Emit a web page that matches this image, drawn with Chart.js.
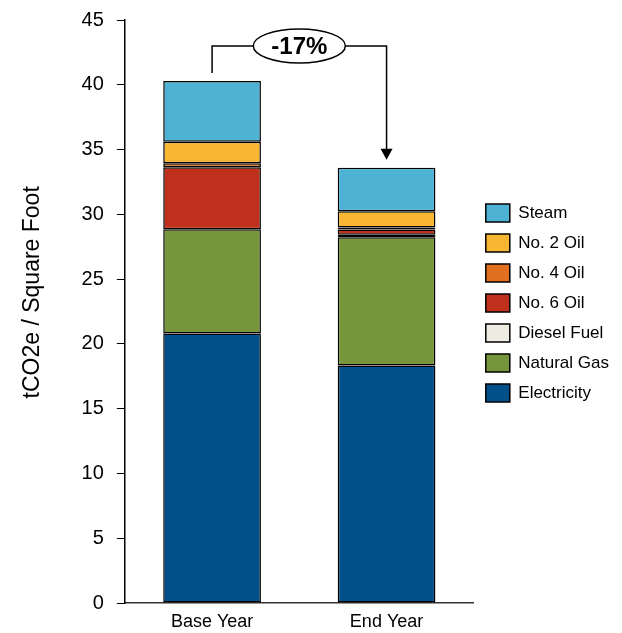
<!DOCTYPE html>
<html lang="en">
  <head>
    <meta charset="UTF-8" />
    <script src="https://cdn.jsdelivr.net/npm/chart.js"></script>
    <title>tCO2e / Square Foot</title>
    <style>
      html, body { margin: 0; padding: 0; background: #ffffff; }
      #box { width: 622px; height: 633px; }
    </style>
  </head>
  <body>
    <div id="box"><canvas id="myChartCanvas"></canvas></div>
  </body>
</html>
<script>
  // dados
  const categories = ["Base Year", "End Year"];
  const electricity = [20.8, 18.33];
  const naturalGas = [8.05, 9.9];
  const dieselFuel = [0, 0.2];
  const no6Oil = [4.79, 0.4];
  const no4Oil = [0.31, 0.15];
  const no2Oil = [1.66, 1.26];
  const steam = [4.68, 3.36];
  const yMax = 45;
  const yStep = 5;
  const changeLabel = "-17%";

  const font = "'Liberation Sans', Arial, sans-serif";

  function serie(label, data, color) {
    return {
      label: label,
      data: data,
      backgroundColor: color,
      borderColor: "#000000",
      borderWidth: 1.5,
      borderSkipped: false,
      barPercentage: 0.56,
      categoryPercentage: 1,
    };
  }

  // seta com a variação entre os anos
  const setaVariacao = {
    id: "setaVariacao",
    afterDatasetsDraw(chart) {
      const ctx = chart.ctx;
      const x = chart.scales.x;
      const y = chart.scales.y;
      const tot = (i) =>
        chart.data.datasets.reduce((s, d) => s + d.data[i], 0);
      const x0 = x.getPixelForValue(0);
      const x1 = x.getPixelForValue(1);
      const yTop = y.getPixelForValue(43);
      const y0 = y.getPixelForValue(tot(0)) - 8;
      const y1 = y.getPixelForValue(tot(1)) - 8;

      ctx.save();
      ctx.strokeStyle = "#000";
      ctx.lineWidth = 1.5;
      ctx.beginPath();
      ctx.moveTo(x0, y0);
      ctx.lineTo(x0, yTop);
      ctx.lineTo(x1, yTop);
      ctx.lineTo(x1, y1 - 10);
      ctx.stroke();

      ctx.fillStyle = "#000";
      ctx.beginPath();
      ctx.moveTo(x1 - 6, y1 - 11);
      ctx.lineTo(x1 + 6, y1 - 11);
      ctx.lineTo(x1, y1);
      ctx.closePath();
      ctx.fill();

      const cx = (x0 + x1) / 2;
      ctx.beginPath();
      ctx.ellipse(cx, yTop, 46, 17, 0, 0, Math.PI * 2);
      ctx.fillStyle = "#fff";
      ctx.fill();
      ctx.stroke();

      ctx.fillStyle = "#000";
      ctx.font = "bold 24px " + font;
      ctx.textAlign = "center";
      ctx.textBaseline = "middle";
      ctx.fillText(changeLabel, cx, yTop + 1);
      ctx.restore();
    },
  };

  const dados = {
    labels: categories,
    datasets: [
      serie("Electricity", electricity, "#02508a"),
      serie("Natural Gas", naturalGas, "#77963c"),
      serie("Diesel Fuel", dieselFuel, "#eeebe0"),
      serie("No. 6 Oil", no6Oil, "#bf311d"),
      serie("No. 4 Oil", no4Oil, "#e0701f"),
      serie("No. 2 Oil", no2Oil, "#f8b733"),
      serie("Steam", steam, "#4db2d4"),
    ],
  };

  const config = {
    type: "bar",
    data: dados,
    options: {
      responsive: true,
      maintainAspectRatio: false,
      animation: false,
      layout: { padding: { left: 13, top: 17, right: 3, bottom: -8 } },
      plugins: {
        tooltip: { enabled: false },
        legend: {
          position: "right",
          align: "start",
          reverse: true,
          fullSize: false,
          title: {
            display: true,
            text: " ",
            font: { size: 10 },
            padding: { top: 0, bottom: 160 },
          },
          labels: {
            boxWidth: 24,
            boxHeight: 18,
            padding: 12,
            color: "#000",
            font: { family: font, size: 17 },
          },
        },
      },
      scales: {
        x: {
          stacked: true,
          grid: { drawOnChartArea: false, drawTicks: false, tickLength: 0 },
          border: { color: "#333", width: 1.5 },
          ticks: {
            color: "#000",
            padding: 10,
            font: { family: font, size: 18, lineHeight: 1 },
          },
        },
        y: {
          stacked: true,
          min: 0,
          max: yMax,
          grid: {
            drawOnChartArea: false,
            drawTicks: true,
            tickLength: 8,
            color: "#000",
          },
          border: { color: "#000", width: 1.5 },
          ticks: {
            stepSize: yStep,
            color: "#000",
            padding: 13,
            font: { family: font, size: 20, lineHeight: 0.7 },
          },
          title: {
            display: true,
            text: "      tCO2e / Square Foot",
            color: "#000",
            padding: { top: 6, bottom: 22 },
            font: { family: font, size: 23 },
          },
        },
      },
    },
    plugins: [setaVariacao],
  };

  let myChart = new Chart(document.getElementById("myChartCanvas"), config);
</script>
